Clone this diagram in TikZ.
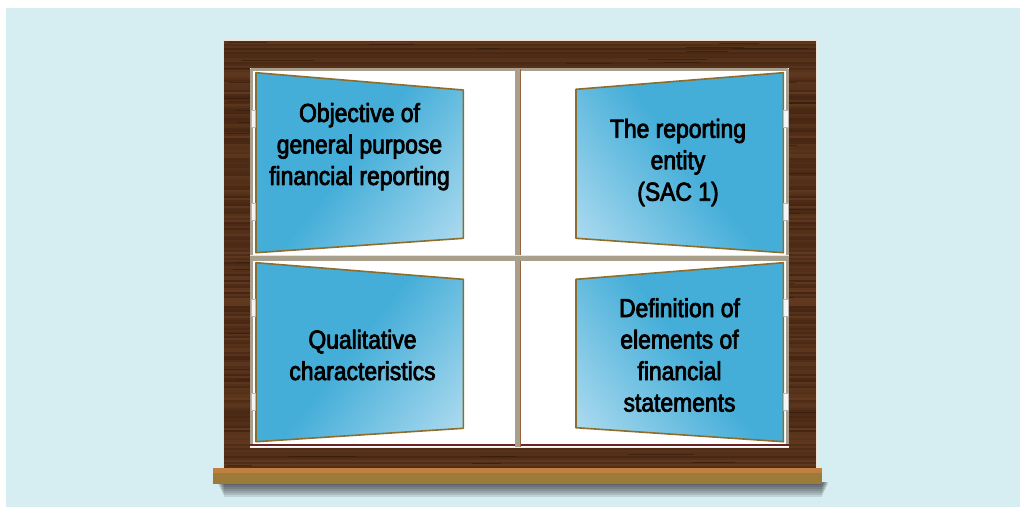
\documentclass[tikz,border=0pt]{standalone}
\usepackage{fontspec}
\setmainfont{Liberation Sans}[FakeStretch=0.88,FakeBold=3]
\usepackage{xcolor}
\usepackage{tikz}
\usetikzlibrary{positioning}
\definecolor{skyback}{RGB}{214,237,242}
\definecolor{wooddark}{RGB}{62,32,15}
\definecolor{woodlight}{RGB}{112,68,38}
\definecolor{sashgray}{RGB}{168,160,140}
\definecolor{sashedge}{RGB}{150,100,60}
\definecolor{sillface}{RGB}{155,122,58}
\definecolor{silltop}{RGB}{192,128,64}
\definecolor{paneblue}{RGB}{69,174,216}
\definecolor{panelight}{RGB}{222,240,251}
\definecolor{panerim}{RGB}{140,109,45}
\definecolor{maroonline}{RGB}{110,35,35}
\pgfdeclarehorizontalshading{panefade}{100bp}{color(0bp)=(paneblue); color(48bp)=(paneblue); color(100bp)=(panelight)}

\begin{document}
\begin{tikzpicture}[x=1pt,y=-1pt, line join=round,
    pane/.style={shading=panefade,draw=panerim,line width=1.6pt},
    hinge/.style={fill=white!92!gray,draw=gray!55,line width=0.4pt},
    bar/.style={fill=sashgray},
    pane text/.style={align=center,text=black,font=\fontsize{26}{31.5}\selectfont}]
    \useasboundingbox (0,0) rectangle (1020,507);
    % background
    \fill[skyback] (6,8) rectangle (1020,507);
    % shadow under the sill
    \foreach \d in {0,2,...,12} {
        \fill[black,opacity=0.11] (218+\d/2,482) rectangle (828-\d/2,485+\d);
    }
    % frame with grain
    \fill[wooddark] (223,40) rectangle (816,468);
    \begin{scope}
        \clip (223,40) rectangle (816,468);
        \pgfmathsetseed{11}
        \foreach \y in {41,43,...,467} {
            \pgfmathsetmacro\mixamt{int(15+rnd*55)}
            \draw[woodlight!\mixamt!wooddark,line width=1.6pt] (223,\y) -- (816,\y);
        }
        \foreach \k in {1,...,160} {
            \pgfmathsetmacro\sx{223+rnd*560}
            \pgfmathsetmacro\sy{41+rnd*426}
            \pgfmathsetmacro\sl{20+rnd*60}
            \draw[wooddark!80!black,line width=0.7pt,opacity=0.6] (\sx,\sy) -- ++(\sl,0);
        }
    \end{scope}
    \draw[white!75!brown,line width=0.8pt] (223,468) -- (223,40) -- (816,40) -- (816,468);
    % opening and sash
    \fill[white] (250,68) rectangle (789,448);
    \draw[sashgray,line width=2.5pt] (251.5,446) -- (251.5,69.5) -- (787.5,69.5) -- (787.5,446);
    \draw[maroonline,line width=2pt] (250,444.5) -- (789,444.5);
    \draw[white!85!gray,line width=1.2pt] (250,447.5) -- (789,447.5);
    % mullions
    \fill[bar] (515,69) rectangle (521,447);
    \draw[sashedge,line width=1pt] (520.5,69) -- (520.5,447);
    \fill[bar] (250,255) rectangle (789,260.5);
    \draw[white!70!sashgray,line width=0.8pt] (250,255.5) -- (789,255.5);
    % shutters
    \path[pane,shading angle=-38] (256,72.7) -- (463.3,90) -- (463.3,238.3) -- (256,252.7) -- cycle;
    \path[pane,shading angle=-142] (576,89.3) -- (783.3,72.7) -- (783.3,252.7) -- (576,238.3) -- cycle;
    \path[pane,shading angle=-38] (256,262.7) -- (463.3,279.3) -- (463.3,428.3) -- (256,441.7) -- cycle;
    \path[pane,shading angle=-142] (576,279.3) -- (783.3,262.7) -- (783.3,441.7) -- (576,427.7) -- cycle;
    % hinges
    \foreach \y in {110,203,299,393} {
        \draw[hinge] (251,\y) rectangle (255.5,\y+17);
        \draw[hinge] (783.5,\y) rectangle (788,\y+17);
    }
    % labels
    \node[pane text] (objective) at (359.5,146.7) {Objective of\\general purpose\\financial reporting};
    \node[pane text] (entity) at (678,162.5) {The reporting\\entity\\(SAC 1)};
    \node[pane text] (qualitative) at (362.5,355) {Qualitative\\characteristics};
    \node[pane text] (elements) at (679.5,355) {Definition of\\elements of\\financial\\statements};
    % sill
    \fill[sillface] (213,468) rectangle (822,484);
    \fill[silltop] (213,468) rectangle (822,472.5);
\end{tikzpicture}
\end{document}
